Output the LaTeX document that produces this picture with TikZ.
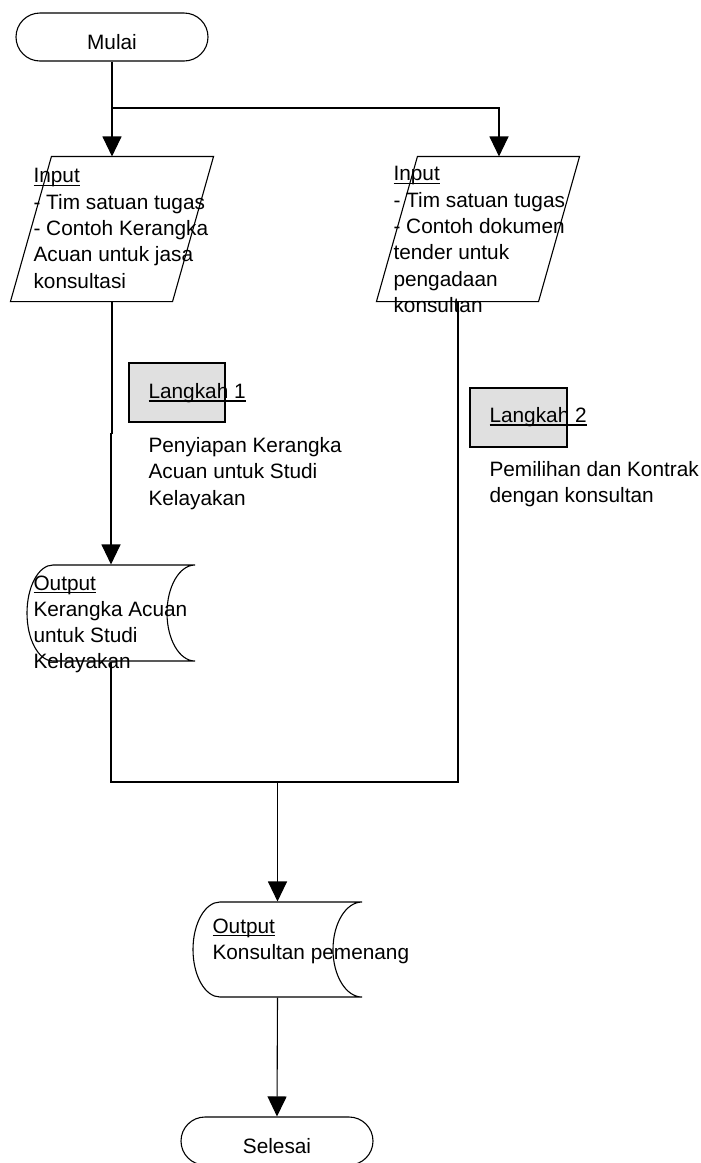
\documentclass[tikz,border=0pt]{standalone}
\usepackage{fontspec}
\setmainfont{Liberation Sans}
\usetikzlibrary{arrows.meta,shapes.misc,calc}
\newcommand\ulx[1]{\setbox0\hbox{#1}\rlap{\rule[-3.2pt]{\wd0}{1.5pt}}\box0}
\begin{document}
\begin{tikzpicture}[x=1pt,y=-1pt, line width=1.1pt,
  every node/.style={font=\fontsize{20.8}{26.3}\selectfont},
  term/.style={rounded rectangle, draw, minimum width=192pt, minimum height=48pt, inner sep=0pt},
  frame/.style={rectangle, draw=none, inner sep=0pt},
  txt/.style={anchor=north west, inner sep=0pt, align=left},
  lbl/.style={inner sep=0pt},
  stepbox/.style={rectangle, draw, fill=black!12, inner sep=0pt},
  arr/.style={-{Triangle[width=19pt,length=20pt]}}]
\useasboundingbox (0,0) rectangle (701,1163);

% terminals
\node[term] (mulai) at (112,37) {};
\node[lbl] (mulaitxt) at (112,42.5) {Mulai};
\node[term] (selesai) at (277,1141) {};
\node[lbl] (selesaitxt) at (277,1146) {Selesai};

% input parallelograms
\node[frame, minimum width=202pt, minimum height=144pt] (in1) at (112,229) {};
\draw ($(in1.north west)+(41,0)$) -- (in1.north east) -- ($(in1.south east)-(41,0)$) -- (in1.south west) -- cycle;
\node[frame, minimum width=202pt, minimum height=144pt] (in2) at (478,229) {};
\draw ($(in2.north west)+(41,0)$) -- (in2.north east) -- ($(in2.south east)-(41,0)$) -- (in2.south west) -- cycle;

% step boxes
\node[stepbox, minimum width=96pt, minimum height=59pt] (l1box) at (177,392.5) {};
\node[stepbox, minimum width=97pt, minimum height=59pt] (l2box) at (518.5,417.5) {};

% output (stored data) shapes
\node[frame, minimum width=168pt, minimum height=96pt] (out1) at (111,613) {};
\draw (53,565) -- (195,565) .. controls (179.5,565) and (167,586.5) .. (167,613)
  .. controls (167,639.5) and (179.5,661) .. (195,661) -- (53,661)
  .. controls (38.6,661) and (27,639.5) .. (27,613)
  .. controls (27,586.5) and (38.6,565) .. cycle;
\node[frame, minimum width=169pt, minimum height=95pt] (out2) at (277.5,949.5) {};
\draw (220,902) -- (362,902) .. controls (346,902) and (333,923.3) .. (333,949.5)
  .. controls (333,975.7) and (346,997) .. (362,997) -- (220,997)
  .. controls (205.1,997) and (193,975.7) .. (193,949.5)
  .. controls (193,923.3) and (205.1,902) .. cycle;

% texts
\node[txt] (in1txt) at (33,168) {\ulx{Input}\\- Tim satuan tugas\\- Contoh Kerangka\\Acuan untuk jasa\\konsultasi};
\node[txt] (in2txt) at (393,166) {\ulx{Input}\\- Tim satuan tugas\\- Contoh dokumen\\tender untuk\\pengadaan\\konsultan};
\node[txt] (l1txt) at (148,383) {\ulx{Langkah 1}};
\node[txt] (l1desc) at (148,437) {Penyiapan Kerangka\\Acuan untuk Studi\\Kelayakan};
\node[txt] (l2txt) at (489,407) {\ulx{Langkah 2}};
\node[txt] (l2desc) at (489,461) {Pemilihan dan Kontrak\\dengan konsultan};
\node[txt] (out1txt) at (33,575) {\ulx{Output}\\Kerangka Acuan\\untuk Studi\\Kelayakan};
\node[txt] (out2txt) at (212,918) {\ulx{Output}\\Konsultan pemenang};

% connectors
\coordinate (split) at (112,108);
\coordinate (in2in) at ($(in2.north)+(21,0)$);
\coordinate (in2out) at ($(in2.south)+(-20,0)$);
\coordinate (merge) at (277.5,782);
\draw[line width=1.6pt] (mulai.south) -- (split);
\draw[arr] (split) -- (in1.north);
\draw[arr] (split) -| (in2in);
\draw[arr] (in1.south) -- ++(0,132) -| (out1.north);
\draw (out1.south) |- (merge);
\draw (in2out) |- (merge);
\draw[arr] (merge) -- (out2.north);
\draw[arr] (out2.south) -- (selesai.north);
\end{tikzpicture}
\end{document}
